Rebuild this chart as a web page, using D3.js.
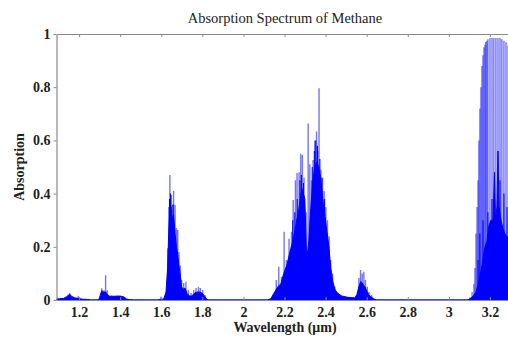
<!DOCTYPE html>
<html>
<head>
<meta charset="utf-8">
<script src="https://cdn.jsdelivr.net/npm/d3@7"></script>
<style>
  body { margin: 0; background: #fff; }
  text { font-family: "Liberation Serif", "DejaVu Serif", serif; }
</style>
</head>
<body>
<svg id="chart" width="508" height="337"></svg>
<script>
// axis ticks
const xTicks = [1.2, 1.4, 1.6, 1.8, 2, 2.2, 2.4, 2.6, 2.8, 3, 3.2];
const yTicks = [0, 0.2, 0.4, 0.6, 0.8, 1];

// dense part of the spectrum (solid blue)
const envWl = [1.09, 1.105, 1.124, 1.139, 1.154, 1.163, 1.178, 1.198, 1.217, 1.241, 1.256, 1.295,
  1.300, 1.310, 1.319, 1.329, 1.339, 1.349, 1.373, 1.397, 1.417, 1.431, 1.446, 1.47,
  1.582, 1.612, 1.623, 1.631, 1.636, 1.641, 1.647, 1.654, 1.660, 1.667, 1.674, 1.680, 1.686,
  1.693, 1.699, 1.706, 1.715, 1.725, 1.737, 1.748, 1.761, 1.774, 1.787, 1.800, 1.810, 1.820, 1.826,
  2.118, 2.133, 2.152, 2.167, 2.182, 2.196, 2.211, 2.226, 2.240, 2.255, 2.269, 2.284, 2.299,
  2.308, 2.318, 2.328, 2.338, 2.347, 2.357, 2.367, 2.377, 2.386, 2.396, 2.406, 2.416, 2.425,
  2.435, 2.445, 2.459, 2.479, 2.508, 2.542, 2.552, 2.562, 2.571, 2.581, 2.591, 2.600, 2.610,
  2.620, 2.635, 2.649,
  3.093, 3.113, 3.132, 3.146, 3.161, 3.176, 3.185, 3.195, 3.205, 3.215, 3.222, 3.227, 3.234,
  3.239, 3.244, 3.254, 3.263, 3.273, 3.3];
const envAbs = [0.004, 0.005, 0.006, 0.012, 0.022, 0.014, 0.008, 0.006, 0.003, 0.002, 0, 0,
  0.01, 0.035, 0.03, 0.03, 0.02, 0.014, 0.014, 0.015, 0.012, 0.004, 0.001, 0,
  0, 0.004, 0.03, 0.12, 0.25, 0.33, 0.35, 0.30, 0.32, 0.25, 0.20, 0.17, 0.13,
  0.09, 0.05, 0.04, 0.045, 0.025, 0.015, 0.015, 0.025, 0.03, 0.03, 0.025, 0.015, 0.005, 0,
  0, 0.005, 0.03, 0.05, 0.06, 0.10, 0.13, 0.18, 0.22, 0.28, 0.34, 0.42, 0.38,
  0.15, 0.22, 0.35, 0.45, 0.50, 0.52, 0.50, 0.45, 0.38, 0.32, 0.26, 0.20, 0.12,
  0.07, 0.04, 0.025, 0.015, 0.01, 0.008, 0.02, 0.05, 0.07, 0.06, 0.05, 0.035, 0.02,
  0.012, 0.004, 0,
  0, 0.01, 0.03, 0.07, 0.13, 0.2, 0.22, 0.28, 0.3, 0.3, 0.48, 0.3, 0.35,
  0.56, 0.35, 0.3, 0.27, 0.25, 0.22];

// strong lines inside the dense part (drawn solid)
const darkWl = [1.640, 1.645, 1.658,
  2.240, 2.250, 2.262, 2.275, 2.282, 2.292, 2.335, 2.345, 2.352, 2.360, 2.372, 2.382, 2.395,
  3.142, 3.151, 3.166, 3.190, 3.210, 3.249, 3.268, 3.283];
const darkAbs = [0.38, 0.40, 0.36,
  0.30, 0.33, 0.38, 0.45, 0.47, 0.44, 0.50, 0.56, 0.60, 0.58, 0.53, 0.46, 0.38,
  0.15, 0.25, 0.30, 0.33, 0.38, 0.45, 0.40, 0.35];

// individual absorption lines sticking out above the dense part
const lineWl = [1.154, 1.196, 1.310, 1.321, 1.329, 1.337, 1.358, 1.383, 1.402, 1.598,
  1.631, 1.637, 1.642, 1.649, 1.654, 1.660, 1.667, 1.674, 1.680, 1.686, 1.693, 1.699, 1.709,
  1.720, 1.732, 1.745, 1.758, 1.769, 1.781, 1.790, 1.802, 1.813,
  2.160, 2.172, 2.185, 2.198, 2.209, 2.222, 2.234, 2.242, 2.253, 2.261, 2.271, 2.279, 2.287,
  2.295, 2.305, 2.315, 2.323, 2.331, 2.339, 2.347, 2.356, 2.362, 2.368, 2.377, 2.385, 2.393,
  2.401, 2.409, 2.417, 2.425, 2.434, 2.445, 2.461,
  2.562, 2.570, 2.578, 2.586, 2.594, 2.603, 2.612, 2.624,
  3.103, 3.113, 3.122, 3.127, 3.132, 3.137, 3.142, 3.146, 3.151, 3.156, 3.161, 3.166, 3.171,
  3.176, 3.180, 3.185, 3.190, 3.200, 3.210, 3.219, 3.229, 3.239, 3.249, 3.258, 3.268, 3.278, 3.288];
const lineAbs = [0.025, 0.016, 0.044, 0.037, 0.093, 0.037, 0.017, 0.016, 0.016, 0.012,
  0.195, 0.35, 0.47, 0.395, 0.357, 0.41, 0.357, 0.27, 0.263, 0.18, 0.13, 0.075, 0.064,
  0.069, 0.038, 0.026, 0.038, 0.045, 0.05, 0.045, 0.038, 0.019,
  0.075, 0.125, 0.086, 0.257, 0.15, 0.23, 0.257, 0.376, 0.45, 0.477, 0.48, 0.55, 0.545,
  0.46, 0.33, 0.664, 0.51, 0.45, 0.526, 0.60, 0.633, 0.56, 0.796, 0.49, 0.46, 0.41,
  0.35, 0.30, 0.24, 0.15, 0.10, 0.05, 0.025,
  0.083, 0.113, 0.10, 0.106, 0.075, 0.05, 0.03, 0.02,
  0.01, 0.03, 0.06, 0.12, 0.25, 0.35, 0.45, 0.60, 0.72, 0.80, 0.88, 0.92, 0.95,
  0.96, 0.97, 0.975, 0.98, 0.985, 0.985, 0.985, 0.985, 0.985, 0.985, 0.98, 0.975, 0.97, 0.96];

const svg = d3.select("#chart");
const mLeft = 56.5, mTop = 34, mBottom = 300, mRight = 510.5;

const x = d3.scaleLinear().domain([1.09, 3.3]).range([mLeft, mRight]);
const y = d3.scaleLinear().domain([0, 1]).range([mBottom, mTop]);

svg.append("clipPath").attr("id", "clip")
  .append("rect").attr("x", mLeft).attr("y", mTop - 1).attr("width", mRight - mLeft).attr("height", mBottom - mTop + 1);

const plot = svg.append("g").attr("clip-path", "url(#clip)");

const env = d3.zip(envWl, envAbs);
plot.append("path")
  .datum(env)
  .attr("fill", "#0000ff")
  .attr("stroke", "#0000ff")
  .attr("stroke-width", 1)
  .attr("d", d3.area().x(d => x(d[0])).y0(y(0)).y1(d => y(d[1])));

plot.append("g")
  .selectAll("line")
  .data(d3.zip(lineWl, lineAbs))
  .join("line")
  .attr("x1", d => x(d[0])).attr("x2", d => x(d[0]))
  .attr("y1", y(0)).attr("y2", d => y(d[1]))
  .attr("stroke", "#0000ff")
  .attr("stroke-opacity", 0.55)
  .attr("stroke-width", 1.4);

plot.append("g")
  .selectAll("line")
  .data(d3.zip(darkWl, darkAbs))
  .join("line")
  .attr("x1", d => x(d[0])).attr("x2", d => x(d[0]))
  .attr("y1", y(0)).attr("y2", d => y(d[1]))
  .attr("stroke", "#0000ff")
  .attr("stroke-width", 1.1);

// axes
const axisColor = "#8a8a8a";
function styleAxis(g) {
  g.select(".domain").attr("stroke", axisColor).attr("stroke-width", 1.2);
  g.selectAll(".tick line").attr("stroke", axisColor);
  g.selectAll(".tick text")
    .attr("fill", "#222")
    .style("font-family", "'Liberation Serif', serif")
    .style("font-size", "14px")
    .style("font-weight", "bold");
}

svg.append("g")
  .attr("transform", `translate(0,${mBottom})`)
  .call(d3.axisBottom(x).tickValues(xTicks).tickSize(-3).tickSizeOuter(0).tickPadding(7)
    .tickFormat(d3.format("")))
  .call(styleAxis);

svg.append("g")
  .attr("transform", `translate(0,${mTop})`)
  .call(d3.axisTop(x).tickValues(xTicks).tickSize(-3).tickSizeOuter(0).tickFormat(""))
  .call(styleAxis);

svg.append("g")
  .attr("transform", `translate(${mLeft},0)`)
  .call(d3.axisLeft(y).tickValues(yTicks).tickSize(3).tickSizeOuter(0).tickPadding(3)
    .tickFormat(d3.format("")))
  .call(styleAxis);

// titles
svg.append("text")
  .attr("x", 285).attr("y", 23)
  .attr("text-anchor", "middle")
  .style("font-size", "14.5px")
  .attr("fill", "#222")
  .text("Absorption Spectrum of Methane");

svg.append("text")
  .attr("x", 285).attr("y", 332)
  .attr("text-anchor", "middle")
  .style("font-size", "14px")
  .style("font-weight", "bold")
  .attr("fill", "#222")
  .text("Wavelength (μm)");

svg.append("text")
  .attr("transform", "translate(24,167) rotate(-90)")
  .attr("text-anchor", "middle")
  .style("font-size", "14px")
  .style("font-weight", "bold")
  .attr("fill", "#222")
  .text("Absorption");
</script>
</body>
</html>
